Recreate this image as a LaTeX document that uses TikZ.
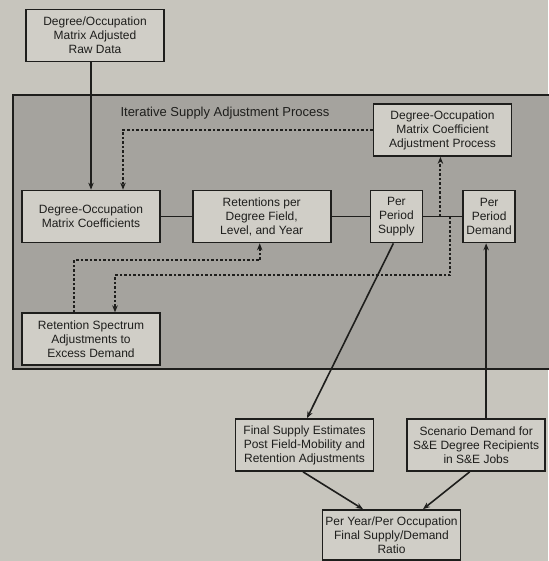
\documentclass[tikz,border=0pt]{standalone}
\usepackage{fontspec}
\setmainfont{Liberation Sans}
\usepackage{tikz}
\usetikzlibrary{arrows.meta,positioning,calc}
\definecolor{pagebg}{RGB}{199,197,189}
\definecolor{areagray}{RGB}{165,163,158}
\definecolor{boxfill}{RGB}{208,206,199}
\definecolor{ink}{RGB}{30,30,28}

\begin{document}
\begin{tikzpicture}[
  x=1pt, y=-1pt,
  font=\fontsize{12}{14}\selectfont,
  >={Stealth[length=7pt,width=5.5pt]},
  proc/.style={draw=ink, line width=1.7pt, fill=boxfill, text=ink, align=center, minimum width=138pt, minimum height=52pt, inner sep=1pt},
  narrow/.style={proc, minimum width=52pt},
  link/.style={draw=ink, line width=1.6pt},
  dsh/.style={draw=ink, line width=2pt, dash pattern=on 2.5pt off 2pt},
]
\useasboundingbox (0,0) rectangle (548,561);
\fill[pagebg] (0,0) rectangle (548,561);
% Iterative area
\fill[areagray] (13,95) rectangle (560,369);
\draw[ink, line width=1.8pt] (560,95) -- (13,95) -- (13,369) -- (560,369);
\node[anchor=west, text=ink, font=\fontsize{13}{15}\selectfont] (title) at (117,113) {Iterative Supply Adjustment Process};
% Input
\node[proc] (raw) at (95,35.5) {Degree/Occupation\\Matrix Adjusted\\Raw Data};
% Main row
\node[proc] (dom) at (91,216.5) {Degree-Occupation\\Matrix Coefficients};
\node[proc, right=31pt of dom] (ret) {Retentions per\\Degree Field,\\Level, and Year};
\node[narrow, right=38pt of ret] (supply) {Per\\Period\\Supply};
\node[narrow, right=39pt of supply] (demand) {Per\\Period\\Demand};
\node[proc] (coeffadj) at (442.5,130) {Degree-Occupation\\Matrix Coefficient\\Adjustment Process};
\node[proc, below=69pt of dom] (spec) {Retention Spectrum\\Adjustments to\\Excess Demand};
\draw[link] (dom) -- (ret);
\draw[link] (ret) -- (supply);
\draw[link] (supply) -- (demand);
\draw[->, link] (raw.south -| dom.north) -- (dom.north);
% Feedback loops
\coordinate (tapup) at ($(supply.east)!0.44!(demand.west)$);
\coordinate (tapdn) at ($(supply.east)!0.69!(demand.west)$);
\draw[dsh, ->] (coeffadj.west) -| ([xshift=32pt]dom.north);
\draw[dsh, ->] (tapup) -- (tapup |- coeffadj.south);
\draw[dsh, ->] (tapdn) |- ($(spec.north)+(24,-37)$) -- ([xshift=24pt]spec.north);
\draw[dsh, ->] ([xshift=-17pt]spec.north) |- ($(ret.south)+(-2,17)$) -- ([xshift=-2pt]ret.south);
% Outputs
\node[proc] (finsup) at (304.5,445) {Final Supply Estimates\\Post Field-Mobility and\\Retention Adjustments};
\node[proc, right=32pt of finsup] (scen) {Scenario Demand for\\S\&E Degree Recipients\\in S\&E Jobs};
\node[proc, minimum height=50pt] (ratio) at (391.5,535) {Per Year/Per Occupation\\Final Supply/Demand\\Ratio};
\coordinate (dmin) at ($(demand.south)+(-3,0)$);
\draw[->, link] ([xshift=-3pt]supply.south) -- ([xshift=2.5pt]finsup.north);
\draw[->, link] (dmin |- scen.north) -- (dmin);
\draw[->, link] ([xshift=-1.5pt]finsup.south) -- ([xshift=-28.5pt]ratio.north);
\draw[->, link] ([xshift=-6.5pt]scen.south) -- ([xshift=31.5pt]ratio.north);
\end{tikzpicture}
\end{document}
